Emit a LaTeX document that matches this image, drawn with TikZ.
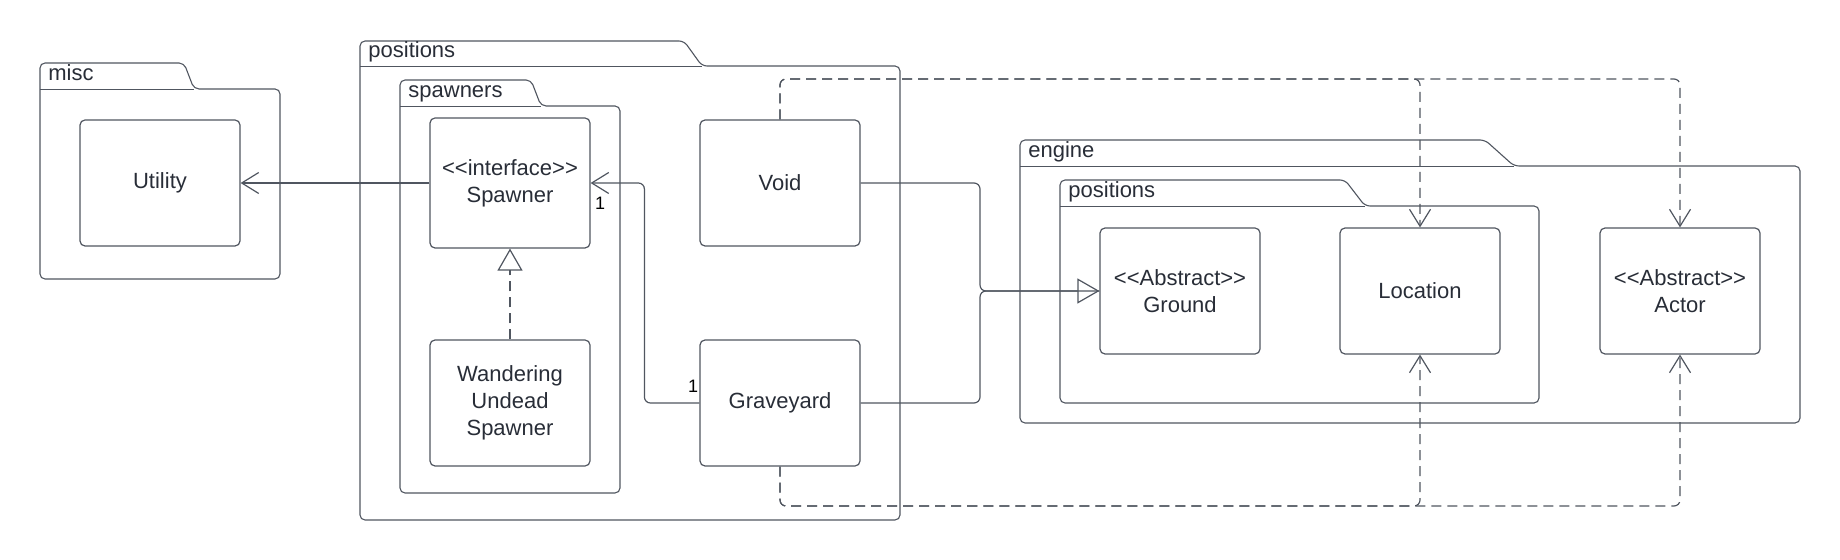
\documentclass[tikz,border=0pt]{standalone}
\usepackage{fontspec}
\setmainfont{Liberation Sans}
\usetikzlibrary{arrows.meta,positioning}

\definecolor{umlline}{RGB}{80,86,96}
\definecolor{umltext}{RGB}{40,45,55}

\newcommand{\stereo}[1]{<\kern0pt<#1>\kern0pt>}
\newcommand{\pkgframe}[9]{%
\draw[pkg] (#3,#7)--(#3,#5)--(#8,#5)--(#9,#6)--(#4,#6)--(#4,#7)--cycle;
\draw[pkg,line width=0.45pt] (#3,#6)--(#9,#6);
\node[pkglabel] (#1) at ({#3+8},{#6-8}) {#2};
}

\tikzset{
cls/.style={draw=umlline,line width=0.6pt,rounded corners=2.5pt,minimum width=80pt,minimum height=63pt,align=center,text=umltext,font=\fontsize{11}{13.4}\selectfont},
pkg/.style={draw=umlline,line width=0.55pt,rounded corners=2.5pt},
pkglabel/.style={anchor=base west,inner sep=0pt,text=umltext,font=\fontsize{11}{13}\selectfont},
conn/.style={draw=umlline,line width=0.6pt,rounded corners=3pt},
dep/.style={conn,dash pattern=on 5pt off 3pt},
navarrow/.style={-{Straight Barb[length=8.5pt,width=10.5pt]}},
hollowtip/.style={-{Triangle[open,length=11pt,width=12.5pt]}},
mult/.style={inner sep=0pt,font=\fontsize{9}{9}\selectfont}
}

\begin{document}
\begin{tikzpicture}[x=0.5pt,y=-0.5pt]
\useasboundingbox (0,0) rectangle (1840,560);
\pkgframe{misc}{misc}{40}{280}{63}{89}{279}{184}{194}
\pkgframe{posout}{positions}{360}{900}{41}{66}{520}{684}{702}
\pkgframe{spawners}{spawners}{400}{620}{80}{106}{493}{531}{541}
\pkgframe{engine}{engine}{1020}{1800}{140}{166}{423}{1485}{1514}
\pkgframe{posin}{positions}{1060}{1539}{180}{206}{403}{1345}{1365}

\node[cls] (utility) at (160,183) {Utility};
\node[cls,minimum height=65pt] (spawner) at (510,183) {\stereo{interface}\\Spawner};
\node[cls] (wandering) at (510,403) {Wandering\\Undead\\Spawner};
\node[cls] (void) at (780,183) {Void};
\node[cls] (graveyard) at (780,403) {Graveyard};
\node[cls] (ground) at (1180,291) {\stereo{Abstract}\\Ground};
\node[cls] (location) at (1420,291) {Location};
\node[cls] (actor) at (1680,291) {\stereo{Abstract}\\Actor};

\coordinate (bus) at (980,291);
\coordinate (topbus) at (780,79);
\coordinate (botbus) at (780,506);

\draw[conn,navarrow] (spawner.west)--(spawner.west -| utility.east);
\draw[conn,navarrow] (graveyard.west)--++(-55,0) |- (spawner.east);
\node[mult,below right=7pt and 2pt of spawner.east] (m1) {1};
\node[mult,above left=5pt and 0.5pt of graveyard.west] (m2) {1};
\draw[dep,hollowtip] (wandering.north)--(spawner.south);

\draw[conn,hollowtip] (void.east)--(void.east -| bus) |- (ground.west);
\draw[conn] (graveyard.east)--(graveyard.east -| bus) |- (ground.west);

\draw[dep,navarrow] (void.north)--(void.north |- topbus) -| (location.north);
\draw[dep,navarrow] (void.north)--(void.north |- topbus) -| (actor.north);
\draw[dep,navarrow] (graveyard.south)--(graveyard.south |- botbus) -| (location.south);
\draw[dep,navarrow] (graveyard.south)--(graveyard.south |- botbus) -| (actor.south);
\end{tikzpicture}
\end{document}
